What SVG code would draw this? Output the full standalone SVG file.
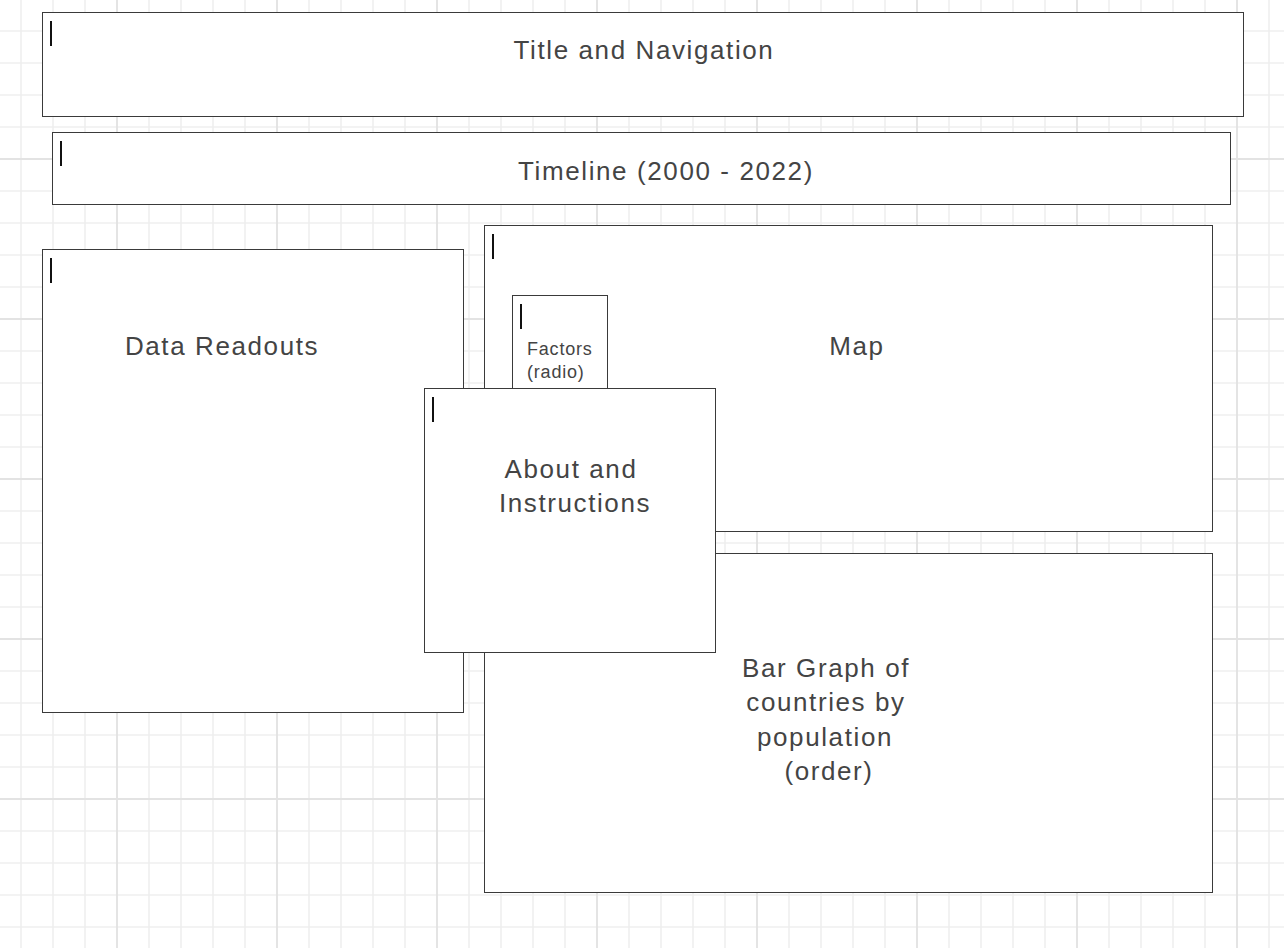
<svg xmlns="http://www.w3.org/2000/svg" width="1284" height="948" viewBox="0 0 1284 948">
<defs>
<pattern id="minor" patternUnits="userSpaceOnUse" x="5" y="15" width="32" height="32">
<path d="M16 0V32M0 16H32" stroke="#efefef" stroke-width="1.6" fill="none"/>
</pattern>
<pattern id="major" patternUnits="userSpaceOnUse" x="37" y="79" width="160" height="160">
<path d="M80 0V160M0 80H160" stroke="#e3e3e3" stroke-width="1.8" fill="none"/>
</pattern>
<style>
.box{fill:#fff;stroke:#3a3a3a;stroke-width:1}
.cur{fill:#111}
.t{font-family:"Liberation Sans",Arial,sans-serif;font-size:26px;letter-spacing:1.6px;fill:#444;text-anchor:middle}
.s{font-family:"Liberation Sans",Arial,sans-serif;font-size:18px;letter-spacing:0.8px;fill:#444}
</style>
</defs>
<rect width="1284" height="948" fill="#fff"/>
<rect width="1284" height="948" fill="url(#minor)"/>
<rect width="1284" height="948" fill="url(#major)"/>
<g id="title">
<rect class="box" x="42.5" y="12.5" width="1201" height="104"/>
<rect class="cur" x="50" y="21" width="2" height="25"/>
<text class="t" x="644" y="59">Title and Navigation</text>
</g>
<g id="timeline">
<rect class="box" x="52.5" y="132.5" width="1178" height="72"/>
<rect class="cur" x="60" y="141" width="2" height="25"/>
<text class="t" x="666" y="180">Timeline (2000 - 2022)</text>
</g>
<g id="data-readouts">
<rect class="box" x="42.5" y="249.5" width="421" height="463"/>
<rect class="cur" x="50" y="258" width="2" height="25"/>
<text class="t" x="222" y="355">Data Readouts</text>
</g>
<g id="map">
<rect class="box" x="484.5" y="225.5" width="728" height="306"/>
<rect class="cur" x="492" y="234" width="2" height="25"/>
<text class="t" x="857" y="355">Map</text>
</g>
<g id="factors">
<rect class="box" x="512.5" y="295.5" width="95" height="100"/>
<rect class="cur" x="520" y="304" width="2" height="25"/>
<text class="s" x="527" y="355">Factors</text>
<text class="s" x="527" y="378">(radio)</text>
</g>
<g id="bar-graph">
<rect class="box" x="484.5" y="553.5" width="728" height="339"/>
<text class="t" x="826" y="677">Bar Graph of</text>
<text class="t" x="826" y="711">countries by</text>
<text class="t" x="825" y="746">population</text>
<text class="t" x="829" y="780">(order)</text>
</g>
<g id="about">
<rect class="box" x="424.5" y="388.5" width="291" height="264"/>
<rect class="cur" x="432" y="397" width="2" height="25"/>
<text class="t" x="571" y="478">About and</text>
<text class="t" x="575" y="512">Instructions</text>
</g>
<g id="connectors"/>
</svg>
